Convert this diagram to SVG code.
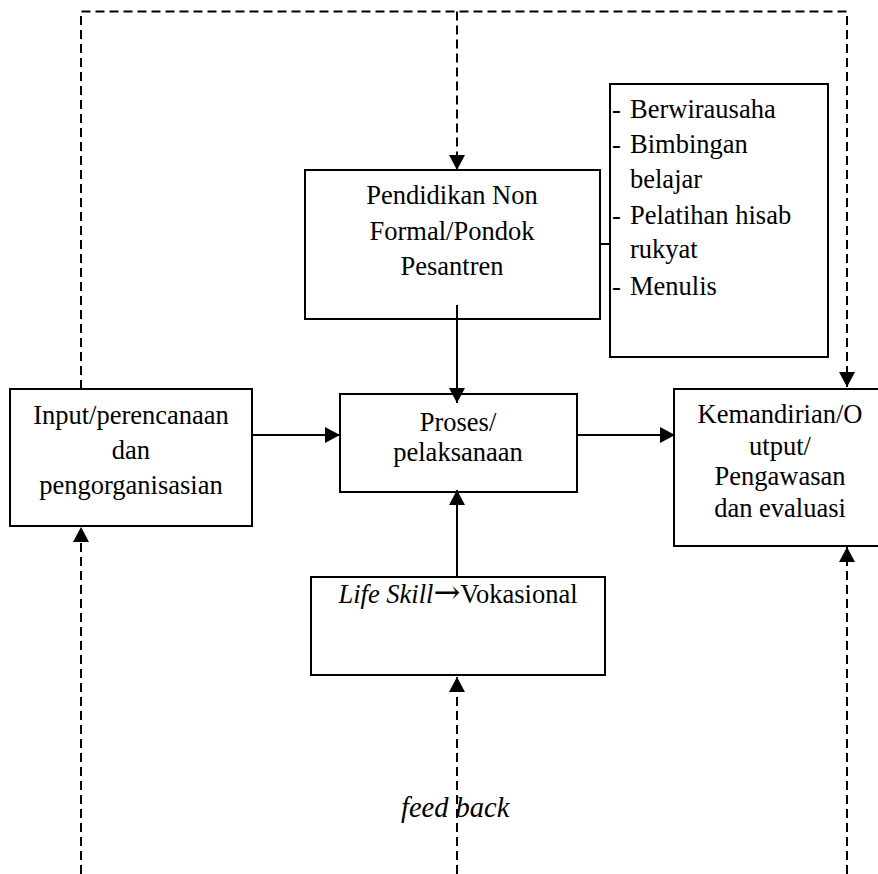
<svg xmlns="http://www.w3.org/2000/svg" width="878" height="874" viewBox="0 0 878 874">
<defs>
<marker id="ah" markerUnits="userSpaceOnUse" markerWidth="16" markerHeight="17" refX="15" refY="8.5" orient="auto">
<path d="M0,0.5 L15,8.5 L0,16.5 z" fill="#000"/>
</marker>
<style>
.box{fill:#fff;stroke:#000;stroke-width:2}
.t{font-family:"Liberation Serif","Times New Roman",serif;font-size:26.5px;fill:#000}
.c{text-anchor:middle}
.i{font-style:italic}
.arr{font-family:"DejaVu Serif","DejaVu Sans",serif;font-size:32px}
.solid{fill:none;stroke:#000;stroke-width:2}
.dash{fill:none;stroke:#000;stroke-width:2;stroke-dasharray:9 5}
</style>
</defs>
<rect width="878" height="874" fill="#fff"/>
<g id="pendidikan">
<rect class="box" x="305" y="170" width="295" height="149"/>
<text class="t c" x="452" y="204">Pendidikan Non</text>
<text class="t c" x="452" y="240">Formal/Pondok</text>
<text class="t c" x="452" y="275">Pesantren</text>
</g>
<g id="kegiatan">
<rect class="box" x="610" y="84" width="218" height="273"/>
<text class="t"><tspan x="612" y="118">-</tspan><tspan x="630" y="118">Berwirausaha</tspan></text>
<text class="t"><tspan x="612" y="153">-</tspan><tspan x="630" y="153">Bimbingan</tspan></text>
<text class="t" x="630" y="188">belajar</text>
<text class="t"><tspan x="612" y="224">-</tspan><tspan x="630" y="224">Pelatihan hisab</tspan></text>
<text class="t" x="630" y="258">rukyat</text>
<text class="t"><tspan x="612" y="295">-</tspan><tspan x="630" y="295">Menulis</tspan></text>
</g>
<g id="input">
<rect class="box" x="10" y="389" width="242" height="137"/>
<text class="t c" x="131" y="424">Input/perencanaan</text>
<text class="t c" x="131" y="459">dan</text>
<text class="t c" x="131" y="494">pengorganisasian</text>
</g>
<g id="proses">
<rect class="box" x="340" y="394" width="237" height="98"/>
<text class="t c" x="458" y="431">Proses/</text>
<text class="t c" x="458" y="461">pelaksanaan</text>
</g>
<g id="kemandirian">
<rect class="box" x="674" y="389" width="212" height="157"/>
<text class="t c" x="780" y="423">Kemandirian/O</text>
<text class="t c" x="780" y="455">utput/</text>
<text class="t c" x="780" y="485">Pengawasan</text>
<text class="t c" x="780" y="517">dan evaluasi</text>
</g>
<g id="lifeskill">
<rect class="box" x="311" y="577" width="294" height="98"/>
<text class="t c" x="458" y="603"><tspan class="i">Life Skill</tspan><tspan class="arr">→</tspan>Vokasional</text>
</g>
<g id="connectors">
<path class="dash" d="M81,389 V11.5 H847 V387" marker-end="url(#ah)"/>
<path class="dash" d="M457,11.5 V170" marker-end="url(#ah)"/>
<path class="solid" d="M457,305 V403" marker-end="url(#ah)"/>
<path class="solid" d="M252,435 H340" marker-end="url(#ah)"/>
<path class="solid" d="M577,435 H675" marker-end="url(#ah)"/>
<path class="solid" d="M457,577 V490" marker-end="url(#ah)"/>
<path class="solid" d="M600,244 H610"/>
<path class="dash" d="M457,874 V677" marker-end="url(#ah)"/>
<path class="dash" d="M81,874 V527" marker-end="url(#ah)"/>
<path class="dash" d="M847,874 V547" marker-end="url(#ah)"/>
</g>
<g id="feedback">
<text class="t i" x="401" y="817" style="font-size:28.5px">feed back</text>
</g>
</svg>
